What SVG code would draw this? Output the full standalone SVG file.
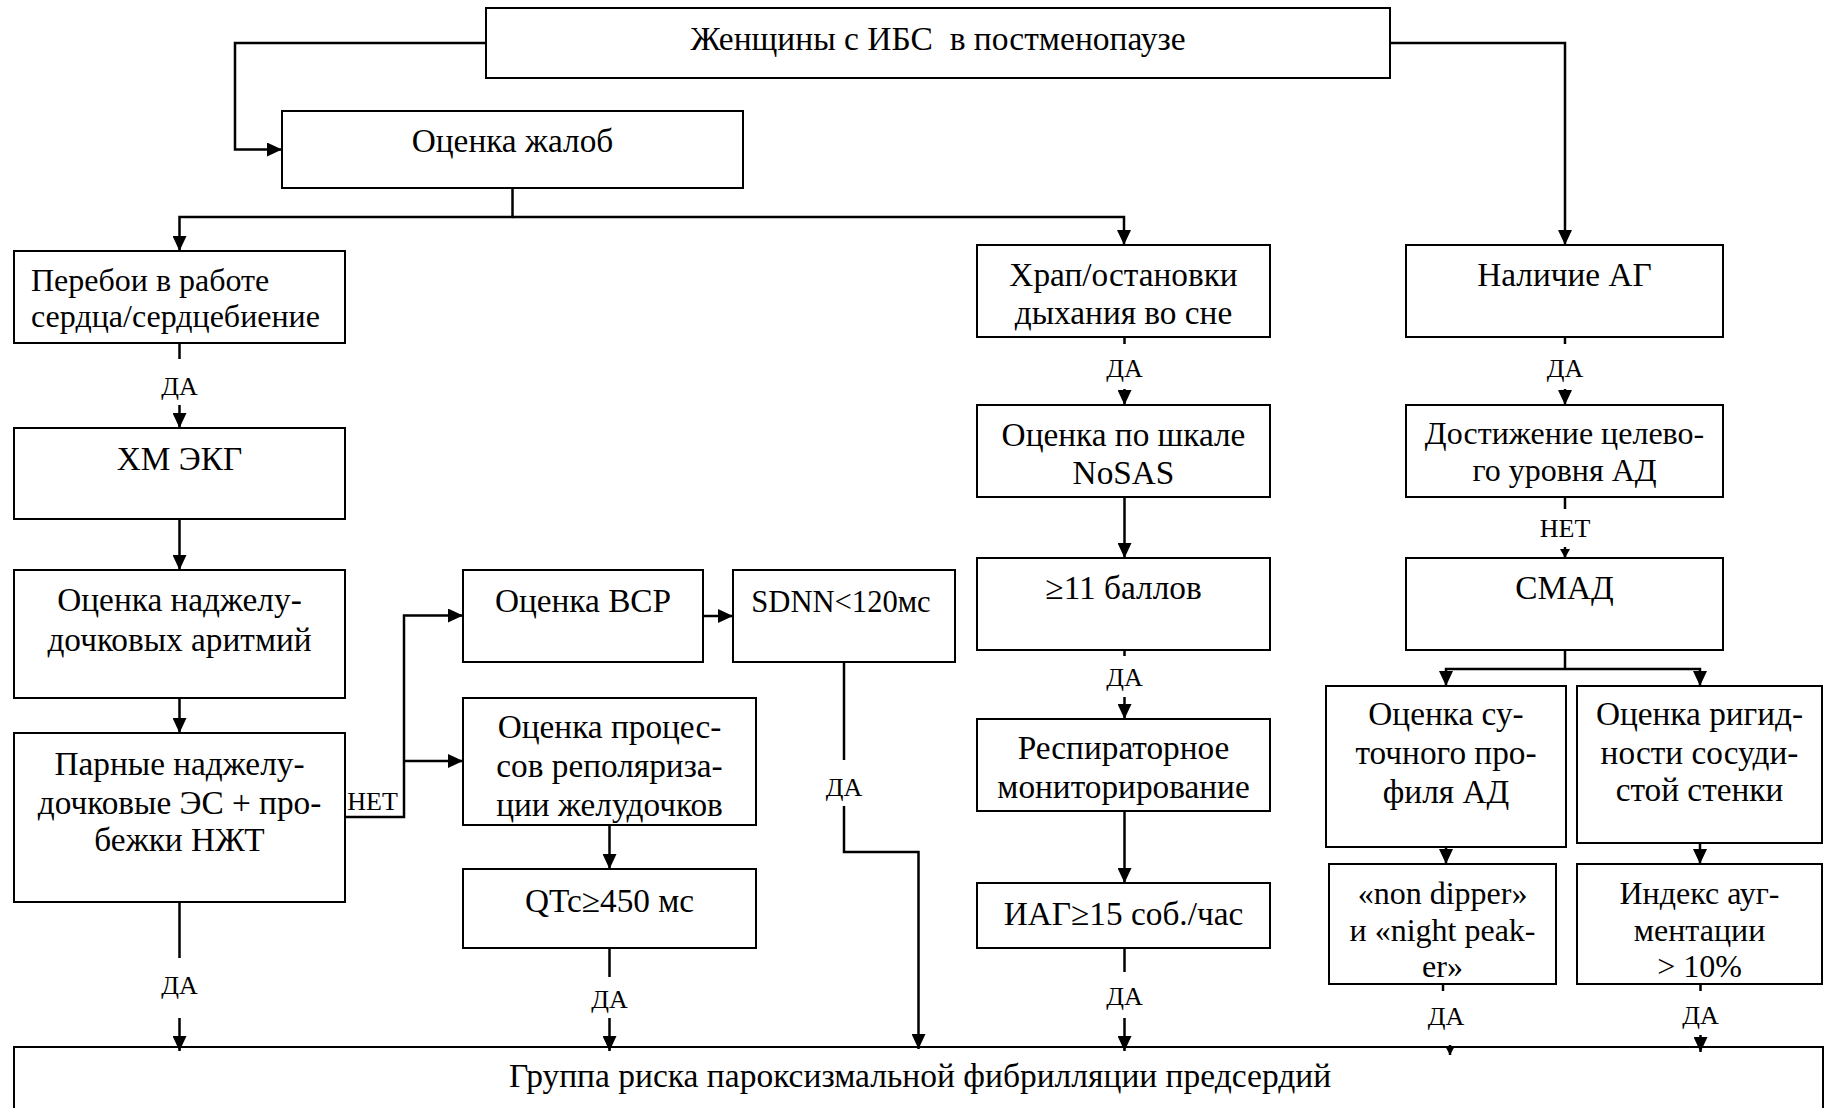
<svg xmlns="http://www.w3.org/2000/svg" width="1830" height="1108" viewBox="0 0 1830 1108">
<style>
  rect.box { fill: #fff; stroke: #000; stroke-width: 2; }
  text { font-family: "Liberation Serif", "Times New Roman", serif; fill: #000; }
  text.t { font-size: 33.3px; text-anchor: middle; }
  text.l { font-size: 32px; text-anchor: start; }
  text.f32 { font-size: 32px; }
  text.f305 { font-size: 30.6px; }
  text.f335 { font-size: 33.5px; white-space: pre; }
  text.lab { font-size: 26px; text-anchor: middle; }
  .c { fill: none; stroke: #000; stroke-width: 2.5; }
  .a { marker-end: url(#ah); }
  .s { marker-end: url(#ahs); }
</style>
<defs>
  <marker id="ah" viewBox="0 0 15 14" refX="15" refY="7" markerWidth="15" markerHeight="14" markerUnits="userSpaceOnUse" orient="auto">
    <path d="M0,0 L15,7 L0,14 z" fill="#000"/>
  </marker>
  <marker id="ahs" viewBox="0 0 9 10" refX="9" refY="5" markerWidth="9" markerHeight="10" markerUnits="userSpaceOnUse" orient="auto">
    <path d="M0,0 L9,5 L0,10 z" fill="#000"/>
  </marker>
</defs>
<rect width="1830" height="1108" fill="#fff"/>

<g id="n-top"><rect class="box" x="486" y="8" width="904" height="70"/><text class="t f335" x="938" y="50">Женщины с ИБС  в постменопаузе</text></g>
<g id="n-zhalob"><rect class="box" x="282" y="111" width="461" height="77"/><text class="t" x="512.5" y="152">Оценка жалоб</text></g>
<g id="n-pereboi"><rect class="box" x="14" y="251" width="331" height="92"/><text class="l" x="31" y="291">Перебои в работе</text><text class="l" x="31" y="327">сердца/сердцебиение</text></g>
<g id="n-hm"><rect class="box" x="14" y="428" width="331" height="91"/><text class="t" x="179.5" y="470">ХМ ЭКГ</text></g>
<g id="n-nadzhel"><rect class="box" x="14" y="570" width="331" height="128"/><text class="t" x="179.5" y="611">Оценка наджелу-</text><text class="t" x="179.5" y="651">дочковых аритмий</text></g>
<g id="n-parnye"><rect class="box" x="14" y="733" width="331" height="169"/><text class="t" x="179.5" y="775">Парные наджелу-</text><text class="t" x="179.5" y="814">дочковые ЭС + про-</text><text class="t" x="179.5" y="851">бежки НЖТ</text></g>
<g id="n-vsr"><rect class="box" x="463" y="570" width="240" height="92"/><text class="t" x="583" y="612">Оценка ВСР</text></g>
<g id="n-sdnn"><rect class="box" x="733" y="570" width="222" height="92"/><text class="t f305" x="841" y="612">SDNN&lt;120мс</text></g>
<g id="n-repol"><rect class="box" x="463" y="698" width="293" height="127"/><text class="t" x="609.5" y="738">Оценка процес-</text><text class="t" x="609.5" y="777">сов реполяриза-</text><text class="t" x="609.5" y="816">ции желудочков</text></g>
<g id="n-qtc"><rect class="box" x="463" y="869" width="293" height="79"/><text class="t" x="609.5" y="912">QTc≥450 мс</text></g>
<g id="n-hrap"><rect class="box" x="977" y="245" width="293" height="92"/><text class="t" x="1123.5" y="286">Храп/остановки</text><text class="t" x="1123.5" y="324">дыхания во сне</text></g>
<g id="n-nosas"><rect class="box" x="977" y="405" width="293" height="92"/><text class="t" x="1123.5" y="446">Оценка по шкале</text><text class="t" x="1123.5" y="484">NoSAS</text></g>
<g id="n-ball"><rect class="box" x="977" y="558" width="293" height="92"/><text class="t" x="1123.5" y="599">≥11 баллов</text></g>
<g id="n-resp"><rect class="box" x="977" y="719" width="293" height="92"/><text class="t" x="1123.5" y="759">Респираторное</text><text class="t" x="1123.5" y="798">мониторирование</text></g>
<g id="n-iag"><rect class="box" x="977" y="883" width="293" height="65"/><text class="t" x="1123.5" y="925">ИАГ≥15 соб./час</text></g>
<g id="n-ag"><rect class="box" x="1406" y="245" width="317" height="92"/><text class="t" x="1564.5" y="286">Наличие АГ</text></g>
<g id="n-dostizh"><rect class="box" x="1406" y="405" width="317" height="92"/><text class="t f32" x="1564.5" y="444">Достижение целево-</text><text class="t f32" x="1564.5" y="481">го уровня АД</text></g>
<g id="n-smad"><rect class="box" x="1406" y="558" width="317" height="92"/><text class="t" x="1564.5" y="599">СМАД</text></g>
<g id="n-sut"><rect class="box" x="1326" y="686" width="240" height="161"/><text class="t" x="1446" y="725">Оценка су-</text><text class="t" x="1446" y="764">точного про-</text><text class="t" x="1446" y="803">филя АД</text></g>
<g id="n-rigid"><rect class="box" x="1577" y="686" width="245" height="157"/><text class="t" x="1699.5" y="725">Оценка ригид-</text><text class="t" x="1699.5" y="764">ности сосуди-</text><text class="t" x="1699.5" y="801">стой стенки</text></g>
<g id="n-nondip"><rect class="box" x="1329" y="864" width="227" height="120"/><text class="t f32" x="1442.5" y="904">«non dipper»</text><text class="t f32" x="1442.5" y="941">и «night peak-</text><text class="t f32" x="1442.5" y="977">er»</text></g>
<g id="n-index"><rect class="box" x="1577" y="864" width="245" height="120"/><text class="t f32" x="1699.5" y="904">Индекс ауг-</text><text class="t f32" x="1699.5" y="941">ментации</text><text class="t f32" x="1699.5" y="977">&gt; 10%</text></g>
<g id="n-bottom"><rect class="box" x="14" y="1047" width="1809" height="80"/><text class="t f335" x="920" y="1087">Группа риска пароксизмальной фибрилляции предсердий</text></g>

<g id="connectors">
  <path class="c a" d="M486,43 H235 V149.5 H282"/>
  <path class="c a" d="M1390,43 H1565 V245"/>
  <path class="c a" d="M512.5,188 V217 H179.5 V251"/>
  <path class="c a" d="M512.5,217 H1124 V245"/>
  <path class="c" d="M179.5,343 V359"/>
  <path class="c a" d="M179.5,405 V428"/>
  <path class="c a" d="M179.5,519 V570"/>
  <path class="c a" d="M179.5,698 V733"/>
  <path class="c a" d="M345,817 H404 V615.5 H463"/>
  <path class="c a" d="M404,761 H463"/>
  <path class="c a" d="M703,616 H733"/>
  <path class="c" d="M844,662 V760"/>
  <path class="c a" d="M844,806 V852 H918.5 V1049"/>
  <path class="c a" d="M609.5,825 V869"/>
  <path class="c" d="M609.5,948 V977"/>
  <path class="c a" d="M609.5,1018 V1051"/>
  <path class="c" d="M179.5,902 V958"/>
  <path class="c a" d="M179.5,1018 V1051"/>
  <path class="c" d="M1124.5,337 V344"/>
  <path class="c a" d="M1124.5,389 V405"/>
  <path class="c a" d="M1124.5,497 V558"/>
  <path class="c" d="M1124.5,650 V656"/>
  <path class="c a" d="M1124.5,697 V719"/>
  <path class="c a" d="M1124.5,811 V883"/>
  <path class="c" d="M1124.5,948 V972"/>
  <path class="c a" d="M1124.5,1018 V1051"/>
  <path class="c" d="M1565,337 V344"/>
  <path class="c a" d="M1565,389 V405"/>
  <path class="c" d="M1565,497 V509"/>
  <path class="c s" d="M1565,547 V558"/>
  <path class="c" d="M1565,650 V669"/>
  <path class="c a" d="M1565,669 H1446 V686"/>
  <path class="c a" d="M1565,669 H1700 V686"/>
  <path class="c a" d="M1446,847 V864"/>
  <path class="c a" d="M1700,843 V864"/>
  <path class="c" d="M1443,984 V991"/>
  <path class="c s" d="M1450,1045 V1055"/>
  <path class="c" d="M1700.5,984 V991"/>
  <path class="c a" d="M1700.5,1035 V1052"/>
  <g id="labels">
    <text class="lab" x="179.5" y="395">ДА</text>
    <text class="lab" x="372.5" y="810">НЕТ</text>
    <text class="lab" x="844" y="796">ДА</text>
    <text class="lab" x="609.5" y="1008">ДА</text>
    <text class="lab" x="179.5" y="994">ДА</text>
    <text class="lab" x="1124.5" y="377">ДА</text>
    <text class="lab" x="1124.5" y="686">ДА</text>
    <text class="lab" x="1124.5" y="1005">ДА</text>
    <text class="lab" x="1565" y="377">ДА</text>
    <text class="lab" x="1565" y="537">НЕТ</text>
    <text class="lab" x="1446" y="1025">ДА</text>
    <text class="lab" x="1700.5" y="1024">ДА</text>
  </g>
</g>
</svg>
